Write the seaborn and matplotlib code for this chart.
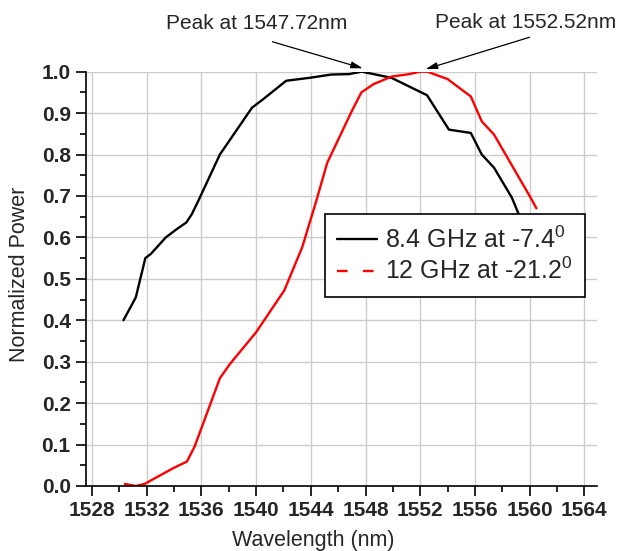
import numpy as np
import pandas as pd
import seaborn as sns
import matplotlib.pyplot as plt
from matplotlib.lines import Line2D
from matplotlib.ticker import MultipleLocator, FormatStrFormatter

# 8.4 GHz beam at -7.4 deg
wl_84 = [1530.3, 1531.2, 1531.9, 1532.3, 1533.4, 1534.2, 1534.9, 1535.3, 1535.8,
         1537.35, 1539.7, 1540.5, 1542.2, 1543.9, 1545.5, 1546.8, 1547.72, 1549.9,
         1552.5, 1554.1, 1555.7, 1556.5, 1557.4, 1558.7, 1559.2, 1560.0]
pw_84 = [0.40, 0.455, 0.55, 0.56, 0.60, 0.62, 0.636, 0.656, 0.69,
         0.80, 0.913, 0.933, 0.978, 0.985, 0.993, 0.994, 1.0, 0.985,
         0.943, 0.86, 0.852, 0.80, 0.768, 0.696, 0.656, 0.60]

# 12 GHz beam at -21.2 deg
wl_12 = [1530.4, 1531.2, 1531.85, 1533.0, 1533.94, 1534.94, 1535.5, 1536.04, 1537.35,
         1538.1, 1540.0, 1542.06, 1543.37, 1544.4, 1545.2, 1547.0, 1547.7, 1548.6,
         1549.9, 1551.2, 1552.0, 1552.52, 1554.0, 1555.7, 1556.5, 1557.4, 1560.0, 1560.5]
pw_12 = [0.005, 0.0, 0.005, 0.026, 0.043, 0.059, 0.095, 0.143, 0.26,
         0.295, 0.371, 0.472, 0.576, 0.688, 0.78, 0.905, 0.95, 0.97,
         0.988, 0.994, 1.0, 1.0, 0.982, 0.94, 0.88, 0.848, 0.70, 0.67]

labels = ["8.4 GHz at -7.4$^0$", "12 GHz at -21.2$^0$"]
peak_text = ["Peak at 1547.72nm", "Peak at 1552.52nm"]

sns.set_style("white")
plt.rcParams['font.family'] = ['Liberation Sans', 'DejaVu Sans']
plt.rcParams['mathtext.default'] = 'regular'

fig, ax = plt.subplots(figsize=(6.2, 5.51), dpi=100)
fig.subplots_adjust(left=0.1387, right=0.9634, bottom=0.118, top=0.870)

sns.lineplot(x=wl_84, y=pw_84, color="black", lw=1.7, ax=ax, estimator=None, sort=False)
sns.lineplot(x=wl_12, y=pw_12, color="red", lw=1.7, ax=ax, estimator=None, sort=False)

ax.set_xlim(1527.56, 1564.95)
ax.set_ylim(0, 1.0)

ax.xaxis.set_major_locator(MultipleLocator(4))
ax.xaxis.set_minor_locator(MultipleLocator(2))
ax.yaxis.set_major_locator(MultipleLocator(0.1))
ax.yaxis.set_minor_locator(MultipleLocator(0.05))
ax.yaxis.set_major_formatter(FormatStrFormatter('%.1f'))

ax.grid(True, which='major', color='#cccccc', lw=1)
ax.set_axisbelow(True)
for s in ['top', 'right']:
    ax.spines[s].set_visible(False)
for s in ['left', 'bottom']:
    ax.spines[s].set_color('black')
    ax.spines[s].set_linewidth(1.2)

ax.tick_params(which='major', direction='out', length=7, width=1.2, color='black',
               left=True, bottom=True, labelsize=15, pad=4)
ax.tick_params(which='minor', direction='out', length=4, width=1.2, color='black',
               left=True, bottom=True)
for t in ax.get_xticklabels() + ax.get_yticklabels():
    t.set_fontweight('bold')

ax.set_xlabel("Wavelength (nm)", fontsize=15.5)
ax.set_ylabel("Normalized Power", fontsize=15.5)
ax.xaxis.set_label_coords(0.445, -0.106)
ax.yaxis.set_label_coords(-0.11, 0.512)

# peak annotations
arrow = dict(arrowstyle='-|>,head_length=0.7,head_width=0.2', color='black', lw=0.9,
             shrinkA=0, shrinkB=0)
ax.annotate("", xy=(1547.8, 1.008), xytext=(1541.2, 1.072), arrowprops=arrow,
            annotation_clip=False)
ax.text(1540.06, 1.115, peak_text[0], ha='center', va='center', fontsize=15, clip_on=False)
ax.annotate("", xy=(1552.4, 1.006), xytext=(1560.0, 1.083), arrowprops=arrow,
            annotation_clip=False)
ax.text(1559.7, 1.119, peak_text[1], ha='center', va='center', fontsize=15, clip_on=False)

handles = [Line2D([], [], color='black', lw=1.7),
           Line2D([], [], color='red', lw=1.7, linestyle=(0, (4.5, 6.5)))]
leg = ax.legend(handles, labels, loc='upper right', bbox_to_anchor=(0.976, 0.656),
                fontsize=18, frameon=True, fancybox=False, framealpha=1,
                edgecolor='black', handlelength=1.6, handletextpad=0.3,
                borderpad=0.5, labelspacing=0.2, borderaxespad=0)
leg.get_frame().set_linewidth(1.2)

plt.savefig('out.png', dpi=100)
